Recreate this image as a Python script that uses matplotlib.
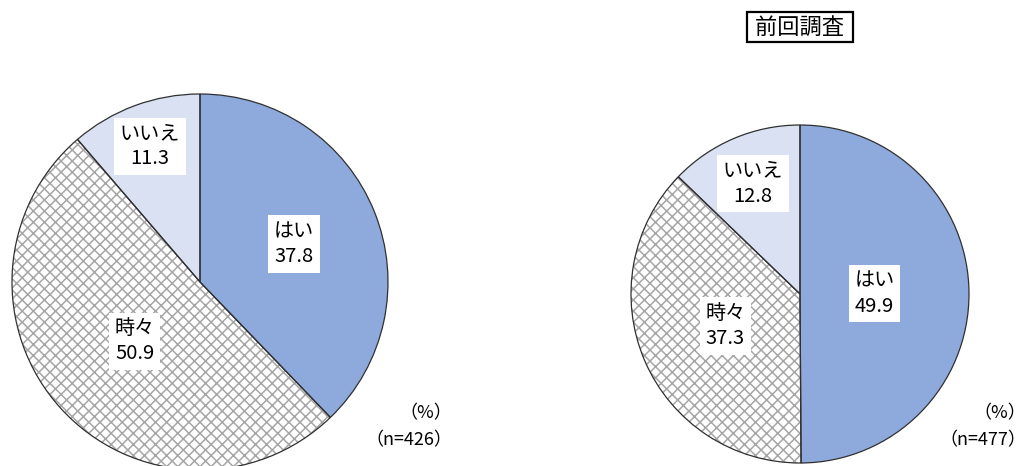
import matplotlib
matplotlib.use('Agg')
import matplotlib.pyplot as plt
import numpy as np

plt.rcParams['font.family'] = ['Noto Sans CJK JP', 'DejaVu Sans']
plt.rcParams['hatch.linewidth'] = 1.1

# data
categories = ['はい', '時々', 'いいえ']
current_values = [37.8, 50.9, 11.3]
previous_values = [49.9, 37.3, 12.8]
current_n = 426
previous_n = 477
prev_title = '前回調査'

colors = ['#8EA9DB', '#FFFFFF', '#D9E1F2']
hatches = [None, 'xxx', None]


def draw_pie(ax, values, label_r):
    wedges, _ = ax.pie(values, colors=colors, startangle=90, counterclock=False,
                       wedgeprops=dict(linewidth=0, edgecolor='#A6A6A6'))
    for w, h in zip(wedges, hatches):
        if h:
            w.set_hatch(h)
    # outlines
    ax.pie(values, colors=['none'] * len(values), startangle=90, counterclock=False,
           wedgeprops=dict(linewidth=0.9, edgecolor='#303030', fill=False))
    total = sum(values)
    start = 90.0
    for cat, v, r in zip(categories, values, label_r):
        mid = np.deg2rad(start - v / total * 360 / 2)
        start -= v / total * 360
        ax.text(r * np.cos(mid), r * np.sin(mid), f'{cat}\n{v:.1f}',
                ha='center', va='center', fontsize=14.5, linespacing=1.25,
                bbox=dict(facecolor='white', edgecolor='none', pad=4))
    ax.set_xlim(-1, 1)
    ax.set_ylim(-1, 1)
    ax.set_aspect('equal')
    ax.axis('off')


fig = plt.figure(figsize=(10.32, 4.66), dpi=100)

ax1 = fig.add_axes([12 / 1032, -4 / 466, 376 / 1032, 376 / 466])
draw_pie(ax1, current_values, [0.54, 0.47, 0.77])

ax2 = fig.add_axes([631 / 1032, 3 / 466, 338 / 1032, 338 / 466])
draw_pie(ax2, previous_values, [0.44, 0.48, 0.71])

fig.text(800 / 1032, 1 - 27 / 466, ' ' + prev_title + ' ', ha='center', va='center', fontsize=16,
         bbox=dict(facecolor='white', edgecolor='black', linewidth=1.6, pad=2.5))

fig.text(452 / 1032, 1 - 413 / 466, '（%）', ha='right', va='center', fontsize=13)
fig.text(452 / 1032, 1 - 440 / 466, f'（n={current_n}）', ha='right', va='center', fontsize=13)
fig.text(1026 / 1032, 1 - 413 / 466, '（%）', ha='right', va='center', fontsize=13)
fig.text(1026 / 1032, 1 - 440 / 466, f'（n={previous_n}）', ha='right', va='center', fontsize=13)

fig.savefig('out.png', dpi=100)
